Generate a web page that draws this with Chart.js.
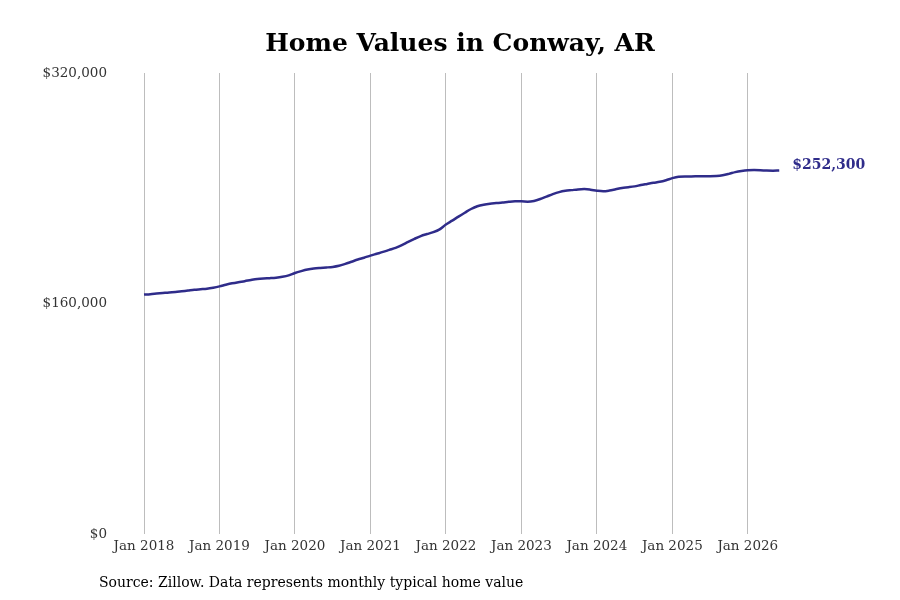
<!DOCTYPE html>
<html>
<head>
<meta charset="utf-8">
<script src="https://cdn.jsdelivr.net/npm/chart.js@4/dist/chart.umd.min.js"></script>
<style>
  html, body { margin:0; padding:0; background:#fff; }
  #wrap { position:relative; width:900px; height:600px; overflow:hidden; }
  #c { position:absolute; left:0; top:0; }
  #title { position:absolute; left:10px; top:28px; width:900px; text-align:center;
           font: bold 25px "DejaVu Serif"; color:#000; line-height:30px; }
  #src { position:absolute; left:99px; top:573px; font: 14px "DejaVu Serif"; color:#000; line-height:18px; white-space:nowrap; }
</style>
</head>
<body>
<div id="wrap">
  <canvas id="c" width="900" height="600"></canvas>
  <div id="title">Home Values in Conway, AR</div>
  <div id="src">Source: Zillow. Data represents monthly typical home value</div>
</div>
<script>
// Monthly typical home value, Jan 2018 .. Jun 2026
const values = [
  // 2018
  166200, 166500, 166900, 167300, 167700, 168000, 168500, 169000, 169500, 169900, 170300, 171000,
  // 2019
  171900, 173000, 174000, 174800, 175500, 176300, 177000, 177400, 177600, 177900, 178500, 179500,
  // 2020
  181200, 182500, 183600, 184300, 184700, 185000, 185400, 186200, 187500, 189000, 190500, 191800,
  // 2021
  193200, 194500, 195800, 197200, 198600, 200500, 202800, 204900, 206800, 208200, 209500, 211500,
  // 2022
  214800, 217500, 220300, 223000, 225600, 227500, 228600, 229300, 229700, 230100, 230600, 230900,
  // 2023
  230900, 230700, 231200, 232500, 234200, 235900, 237300, 238200, 238700, 239200, 239400, 239000,
  // 2024
  238300, 237900, 238400, 239300, 240200, 240700, 241300, 242200, 243000, 243800, 244500, 245600,
  // 2025
  247000, 248000, 248200, 248200, 248300, 248400, 248400, 248500, 249000, 250000, 251200, 252000,
  // 2026
  252500, 252600, 252500, 252300, 252200, 252300
];
const tickLabels = ["Jan 2018","Jan 2019","Jan 2020","Jan 2021","Jan 2022","Jan 2023","Jan 2024","Jan 2025","Jan 2026"];
const yTicks = [0, 160000, 320000];
const lastLabel = "$252,300";

const lineColor = '#2f2c8a';
const fontFam = '"DejaVu Serif"';

const points = values.map((v, i) => ({ x: i, y: v }));

const endLabel = {
  id: 'endLabel',
  afterDatasetsDraw(chart) {
    const meta = chart.getDatasetMeta(0);
    const pt = meta.data[meta.data.length - 1];
    const ctx = chart.ctx;
    ctx.save();
    ctx.font = 'bold 14px ' + fontFam;
    ctx.fillStyle = lineColor;
    ctx.textAlign = 'left';
    ctx.textBaseline = 'middle';
    ctx.fillText(lastLabel, pt.x + 13, pt.y - 5);
    ctx.restore();
  }
};

new Chart(document.getElementById('c'), {
  type: 'line',
  data: {
    datasets: [{
      data: points,
      borderColor: lineColor,
      borderWidth: 2.5,
      pointRadius: 0,
      fill: false,
      tension: 0.4,
      cubicInterpolationMode: 'monotone'
    }]
  },
  options: {
    responsive: false,
    animation: false,
    devicePixelRatio: 1,
    layout: { padding: { left: 0, right: 100, top: 73, bottom: 34 } },
    plugins: { legend: { display: false }, tooltip: { enabled: false }, title: { display: false } },
    scales: {
      x: {
        type: 'linear',
        min: -5.09,
        max: 104.3,
        afterFit(s) { s.height = 32; },
        afterBuildTicks(s) { s.ticks = tickLabels.map((t, i) => ({ value: i * 12 })); },
        ticks: {
          padding: 4,
          color: '#333',
          font: { family: fontFam, size: 13.5 },
          callback: (v) => tickLabels[Math.round(v / 12)],
          maxRotation: 0,
          autoSkip: false
        },
        grid: { color: '#bdbdbd', lineWidth: 1, drawTicks: false },
        border: { display: false }
      },
      y: {
        min: 0,
        max: 320000,
        afterFit(s) { s.width = 112; },
        afterBuildTicks(s) { s.ticks = yTicks.map(v => ({ value: v })); },
        ticks: {
          padding: 5,
          color: '#333',
          font: { family: fontFam, size: 13.5 },
          callback: (v) => '$' + v.toLocaleString('en-US')
        },
        grid: { display: false, drawTicks: false },
        border: { display: false }
      }
    }
  },
  plugins: [endLabel]
});
</script>
</body>
</html>
